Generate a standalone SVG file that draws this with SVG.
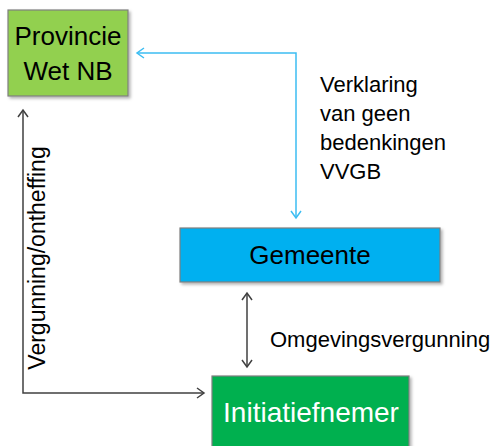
<svg xmlns="http://www.w3.org/2000/svg" width="495" height="446" viewBox="0 0 495 446">
<style>
text{font-family:"Liberation Sans",Arial,sans-serif;fill:#000}
.box{stroke:#7f7f7f;stroke-width:1.2}
.conn{fill:none;stroke-width:1.5}
.blk{stroke:#404040}
.blu{stroke:#3cbdf2}
</style>
<defs>
<filter id="sh" x="-10%" y="-10%" width="130%" height="130%">
<feDropShadow dx="2" dy="2" stdDeviation="1.5" flood-color="#000" flood-opacity="0.3"/>
</filter>
<marker id="ak" markerWidth="12" markerHeight="12" refX="10" refY="6" orient="auto-start-reverse" markerUnits="userSpaceOnUse">
<path d="M3,1 L10,6 L3,11" fill="none" stroke="#404040" stroke-width="1.5"/>
</marker>
<marker id="ab" markerWidth="12" markerHeight="12" refX="10" refY="6" orient="auto-start-reverse" markerUnits="userSpaceOnUse">
<path d="M3,1 L10,6 L3,11" fill="none" stroke="#3cbdf2" stroke-width="1.5"/>
</marker>
</defs>
<g id="connectors">
<path class="conn blu" d="M296,218 V53 H137" marker-start="url(#ab)" marker-end="url(#ab)"/>
<path class="conn blk" d="M247,293 V367" marker-start="url(#ak)" marker-end="url(#ak)"/>
<path class="conn blk" d="M23,110 V393 H204" marker-start="url(#ak)" marker-end="url(#ak)"/>
</g>
<g id="provincie">
<rect class="box" x="8" y="10" width="120" height="86" fill="#92d050" filter="url(#sh)"/>
<text x="68" y="45" font-size="26" text-anchor="middle">Provincie</text>
<text x="68" y="80" font-size="26" text-anchor="middle">Wet NB</text>
</g>
<g id="gemeente">
<rect class="box" x="180" y="228" width="260" height="54" fill="#00b0f0" filter="url(#sh)"/>
<text x="310" y="264" font-size="26" text-anchor="middle">Gemeente</text>
</g>
<g id="initiatiefnemer">
<rect class="box" x="212" y="376" width="197" height="80" fill="#00b050" filter="url(#sh)"/>
<text x="311" y="422" font-size="28" text-anchor="middle" style="fill:#fff">Initiatiefnemer</text>
</g>
<g id="labels">
<text x="320" y="92" font-size="22">Verklaring</text>
<text x="320" y="121" font-size="22">van geen</text>
<text x="320" y="150" font-size="22">bedenkingen</text>
<text x="320" y="179" font-size="22">VVGB</text>
<text x="270" y="347" font-size="22">Omgevingsvergunning</text>
<text transform="translate(45,258) rotate(-90)" font-size="23" text-anchor="middle">Vergunning/ontheffing</text>
</g>
</svg>
